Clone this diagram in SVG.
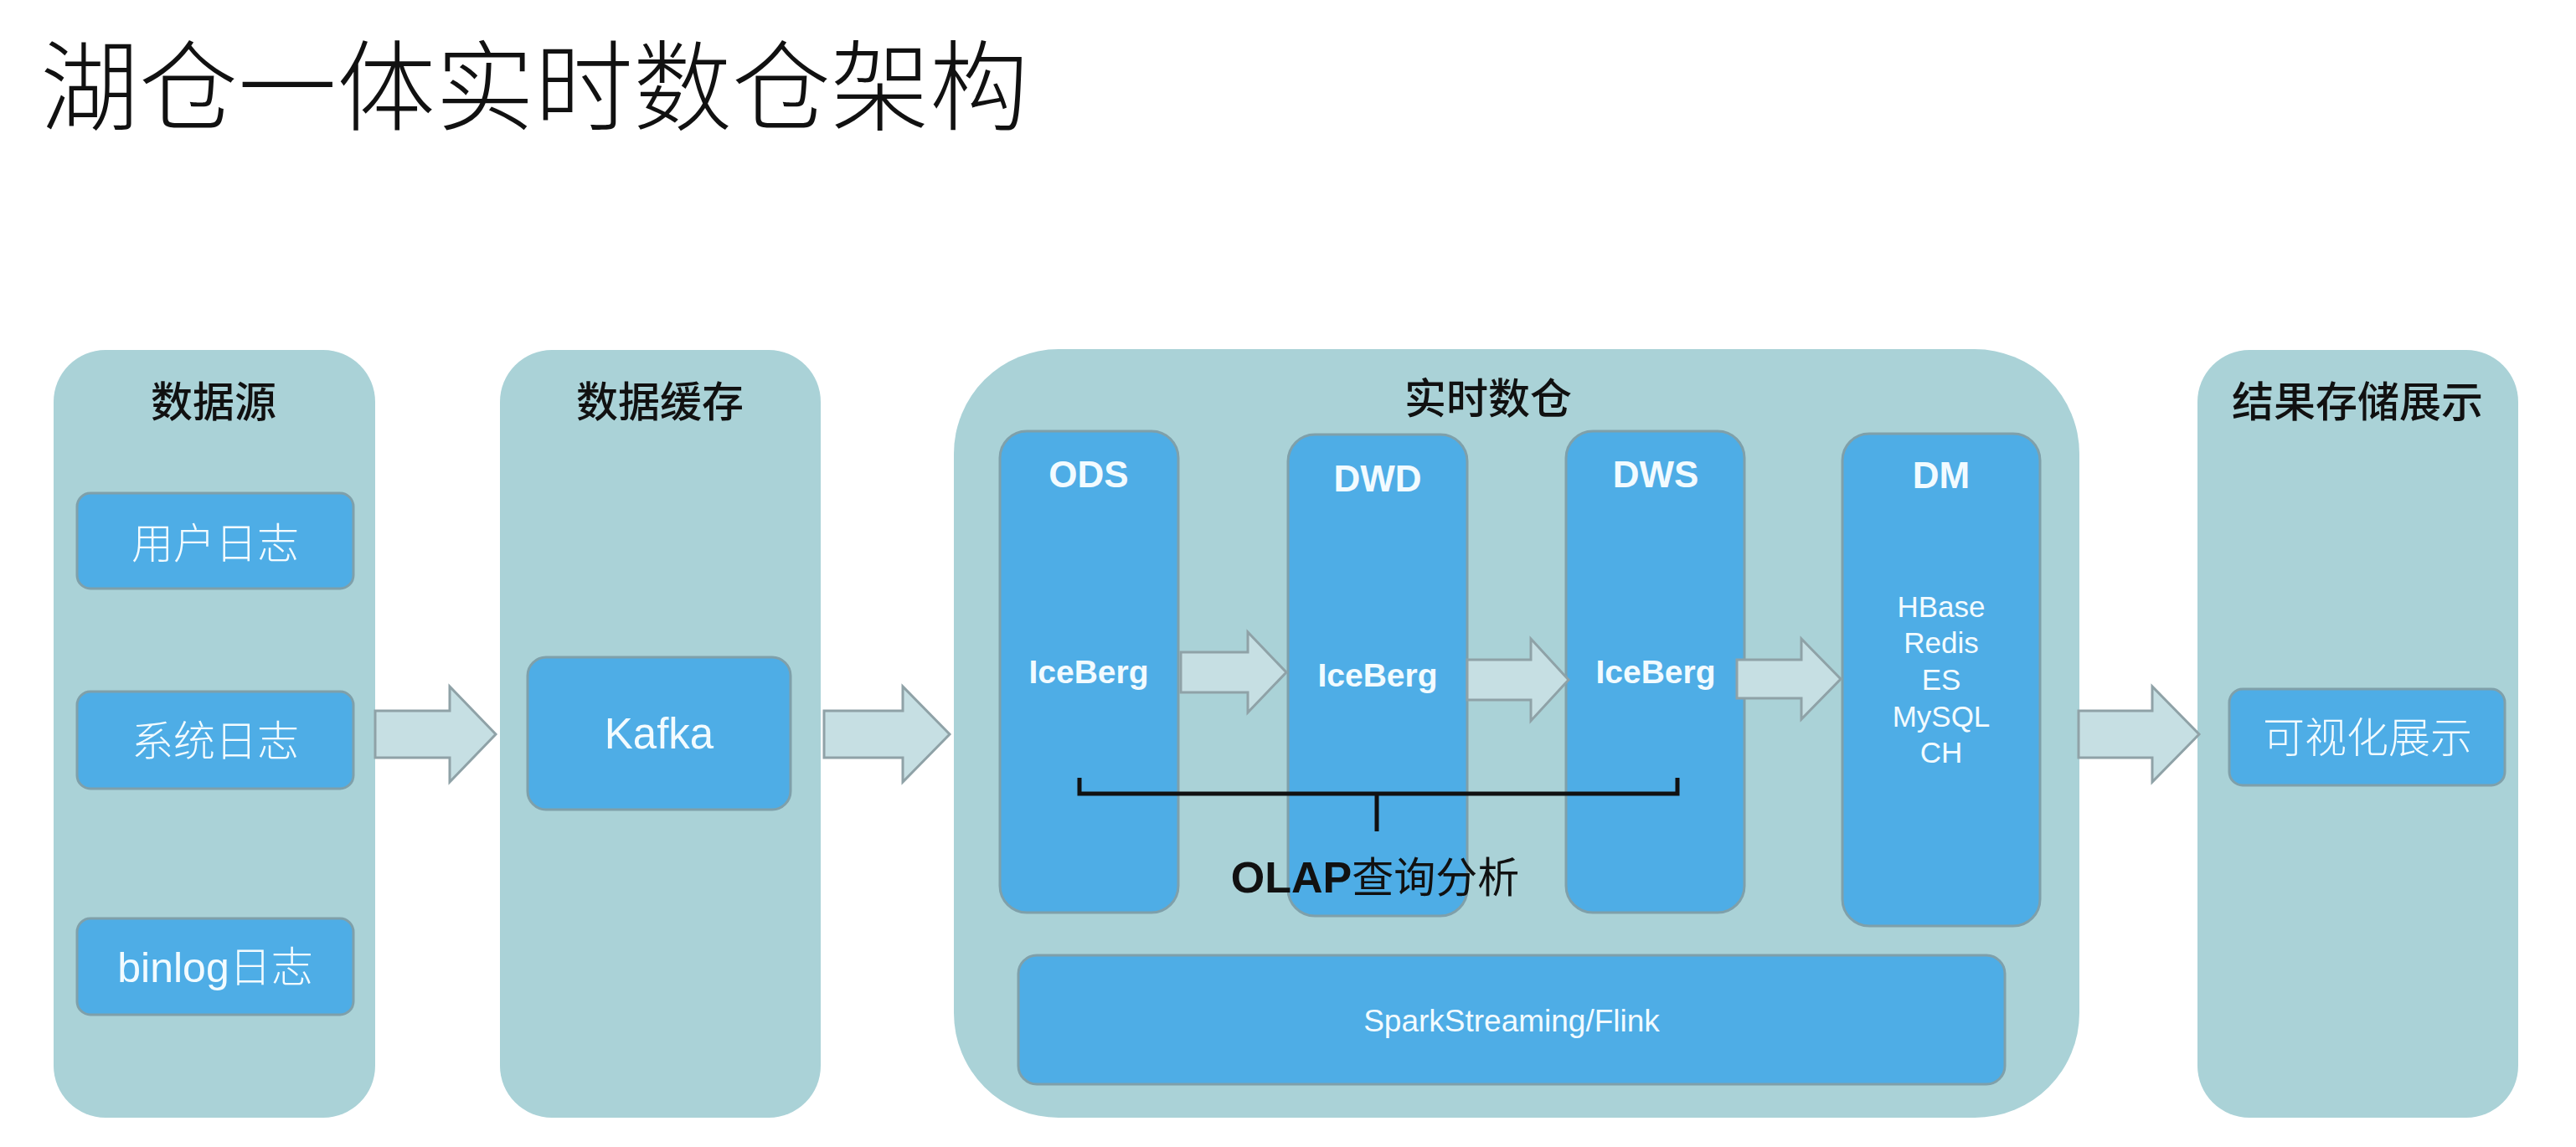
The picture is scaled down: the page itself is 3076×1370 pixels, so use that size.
<svg xmlns="http://www.w3.org/2000/svg" width="3076" height="1370" viewBox="0 0 3076 1370">
<defs>
<style>
.cont{fill:#AAD2D7;}
.box{fill:#4EADE6;stroke:#7FA0AA;stroke-width:3;}
.arr{fill:#C6DFE3;stroke:#8FA2A7;stroke-width:3;stroke-linejoin:miter;}
.title{font-family:"Noto Sans CJK SC",sans-serif;font-weight:300;font-size:118px;fill:#111;}
.ctitle{font-family:"Noto Sans CJK SC",sans-serif;font-weight:500;font-size:50px;fill:#111;text-anchor:middle;}
.zh{font-family:"Liberation Sans","Noto Sans CJK SC",sans-serif;font-weight:300;font-size:50px;fill:#F2FBFF;text-anchor:middle;}
.lab{font-family:"Liberation Sans","Noto Sans CJK SC",sans-serif;font-weight:bold;font-size:44px;fill:#F2FBFF;text-anchor:middle;}
.ice{font-family:"Liberation Sans",sans-serif;font-weight:bold;font-size:39px;fill:#F2FBFF;text-anchor:middle;}
.db{font-family:"Liberation Sans",sans-serif;font-size:35px;fill:#F2FBFF;text-anchor:middle;}
</style>
</defs>
<rect width="3076" height="1370" fill="#FFFFFF"/>
<text class="title" x="48" y="147">湖仓一体实时数仓架构</text>

<g id="col-source">
<rect class="cont" x="64" y="418" width="384" height="917" rx="62" ry="62"/>
<text class="ctitle" x="255" y="498">数据源</text>
</g>
<g id="user-log">
<rect class="box" x="92" y="589" width="330" height="114" rx="16"/>
<text class="zh" x="257" y="667">用户日志</text>
</g>
<g id="sys-log">
<rect class="box" x="92" y="826" width="330" height="116" rx="16"/>
<text class="zh" x="257" y="903">系统日志</text>
</g>
<g id="binlog">
<rect class="box" x="92" y="1097" width="330" height="115" rx="16"/>
<text class="zh" x="257" y="1173">binlog日志</text>
</g>

<g id="col-cache">
<rect class="cont" x="597" y="418" width="383" height="917" rx="62" ry="62"/>
<text class="ctitle" x="788" y="498">数据缓存</text>
</g>
<g id="kafka">
<rect class="box" x="630" y="785" width="314" height="182" rx="22"/>
<text class="zh" x="787" y="894" style="font-size:51px">Kafka</text>
</g>

<g id="col-dw">
<rect class="cont" x="1139" y="417" width="1344" height="918" rx="125" ry="125"/>
<text class="ctitle" x="1777" y="494">实时数仓</text>
</g>
<g id="ods">
<rect class="box" x="1194" y="515" width="213" height="575" rx="32"/>
<text class="lab" x="1300" y="582">ODS</text>
<text class="ice" x="1300" y="816">IceBerg</text>
</g>
<g id="dwd">
<rect class="box" x="1538" y="519" width="214" height="575" rx="32"/>
<text class="lab" x="1645" y="587">DWD</text>
<text class="ice" x="1645" y="820">IceBerg</text>
</g>
<g id="dws">
<rect class="box" x="1870" y="515" width="213" height="575" rx="32"/>
<text class="lab" x="1977" y="582">DWS</text>
<text class="ice" x="1977" y="816">IceBerg</text>
</g>
<g id="dm">
<rect class="box" x="2200" y="518" width="236" height="588" rx="32"/>
<text class="lab" x="2318" y="583">DM</text>
<text class="db" x="2318" y="737">HBase</text>
<text class="db" x="2318" y="780">Redis</text>
<text class="db" x="2318" y="824">ES</text>
<text class="db" x="2318" y="868">MySQL</text>
<text class="db" x="2318" y="911">CH</text>
</g>
<g id="stream">
<rect class="box" x="1216" y="1141" width="1178" height="154" rx="22"/>
<text class="db" x="1805" y="1232" style="font-size:37px">SparkStreaming/Flink</text>
</g>
<g id="olap">
<path d="M1289,929 V948 H2003 V929 M1644,948 V993" fill="none" stroke="#111" stroke-width="5"/>
<text x="1642" y="1066" text-anchor="middle" style="font-family:'Liberation Sans','Noto Sans CJK SC',sans-serif;font-size:50px;fill:#111"><tspan font-weight="bold" font-size="52">OLAP</tspan>查询分析</text>
</g>

<g id="col-result">
<rect class="cont" x="2624" y="418" width="383" height="917" rx="62" ry="62"/>
<text class="ctitle" x="2815" y="498">结果存储展示</text>
</g>
<g id="viz">
<rect class="box" x="2662" y="823" width="329" height="115" rx="16"/>
<text class="zh" x="2827" y="899">可视化展示</text>
</g>

<g id="connectors">
<polygon class="arr" points="448,849 537,849 537,820 592,877 537,934 537,905 448,905"/>
<polygon class="arr" points="984,849 1078,849 1078,820 1134,877 1078,934 1078,905 984,905"/>
<polygon class="arr" points="1410,779 1490,779 1490,755 1536,803 1490,851 1490,827 1410,827"/>
<polygon class="arr" points="1752,788 1828,788 1828,763 1873,812 1828,861 1828,836 1752,836"/>
<polygon class="arr" points="2074,788 2151,788 2151,763 2198,811 2151,859 2151,834 2074,834"/>
<polygon class="arr" points="2482,849 2570,849 2570,820 2626,877 2570,934 2570,905 2482,905"/>
</g>
</svg>
